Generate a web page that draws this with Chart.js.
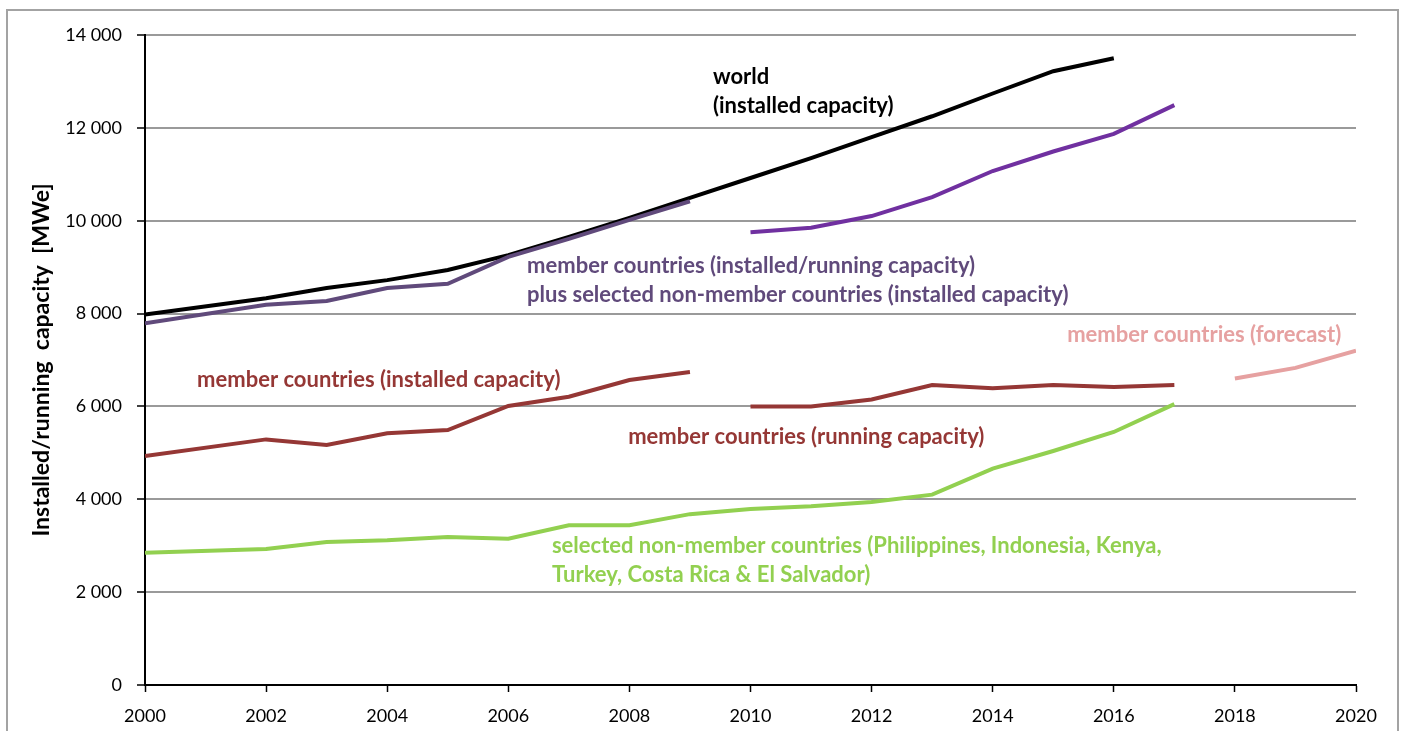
<!DOCTYPE html>
<html>
<head>
<meta charset="utf-8">
<script src="https://cdn.jsdelivr.net/npm/chart.js@4.4.1/dist/chart.umd.min.js"></script>
<style>
  html, body { margin: 0; padding: 0; background: #fff; }
  #wrap { position: relative; width: 1407px; height: 731px; }
  #frame { position: absolute; left: 6px; top: 9px; width: 1393px; height: 740px; border: 2px solid #a3a3a3; box-sizing: border-box; pointer-events: none; }
  canvas { position: absolute; left: 0; top: 0; }
</style>
</head>
<body>
<div id="wrap">
  <canvas id="geoChart" width="1407" height="731"></canvas>
  <div id="frame"></div>
</div>
<script>
// Installed / running geothermal capacity [MWe]
const worldYears = [2000, 2002, 2003, 2004, 2005, 2006, 2007, 2008, 2009, 2010, 2011, 2012, 2013, 2014, 2015, 2016];
const worldValues = [7980, 8330, 8550, 8720, 8940, 9260, 9650, 10060, 10490, 10920, 11350, 11800, 12250, 12740, 13220, 13500];

const memberPlusYearsA = [2000, 2002, 2003, 2004, 2005, 2006, 2007, 2008, 2009];
const memberPlusValuesA = [7790, 8190, 8270, 8550, 8640, 9220, 9610, 10020, 10420];
const memberPlusYearsB = [2010, 2011, 2012, 2013, 2014, 2015, 2016, 2017];
const memberPlusValuesB = [9750, 9850, 10100, 10510, 11070, 11490, 11870, 12490];

const memberInstYears = [2000, 2002, 2003, 2004, 2005, 2006, 2007, 2008, 2009];
const memberInstValues = [4930, 5290, 5170, 5420, 5490, 6010, 6210, 6570, 6740];

const memberRunYears = [2010, 2011, 2012, 2013, 2014, 2015, 2016, 2017];
const memberRunValues = [6000, 6000, 6150, 6460, 6390, 6460, 6420, 6460];

const forecastYears = [2018, 2019, 2020];
const forecastValues = [6600, 6830, 7200];

const nonMemberYears = [2000, 2002, 2003, 2004, 2005, 2006, 2007, 2008, 2009, 2010, 2011, 2012, 2013, 2014, 2015, 2016, 2017];
const nonMemberValues = [2850, 2930, 3080, 3120, 3190, 3150, 3440, 3440, 3680, 3790, 3850, 3940, 4100, 4660, 5040, 5450, 6050];

const yTicks = [0, 2000, 4000, 6000, 8000, 10000, 12000, 14000];
const xTicks = [2000, 2002, 2004, 2006, 2008, 2010, 2012, 2014, 2016, 2018, 2020];

// series labels placed on the chart (anchored in data coordinates)
const notes = [
  { x: 2009.38, y: 13095, text: 'world', color: '#000000' },
  { x: 2009.38, y: 12470, text: '(installed capacity)', color: '#000000' },
  { x: 2006.31, y: 9024, text: 'member countries (installed/running capacity)', color: '#604a7b' },
  { x: 2006.31, y: 8400, text: 'plus selected non-member countries (installed capacity)', color: '#604a7b' },
  { x: 2000.86, y: 6569, text: 'member countries (installed capacity)', color: '#953735' },
  { x: 2007.98, y: 5341, text: 'member countries (running capacity)', color: '#953735' },
  { x: 2015.23, y: 7538, text: 'member countries (forecast)', color: '#e6a1a1' },
  { x: 2006.72, y: 2994, text: 'selected non-member countries (Philippines, Indonesia, Kenya,', color: '#92d050' },
  { x: 2006.72, y: 2369, text: 'Turkey, Costa Rica & El Salvador)', color: '#92d050' }
];

const toPoints = (xs, ys) => xs.map((x, i) => ({ x: x, y: ys[i] }));

function series(xs, ys, color, width) {
  return {
    data: toPoints(xs, ys),
    borderColor: color,
    backgroundColor: color,
    borderWidth: width,
    pointRadius: 0,
    tension: 0,
    fill: false
  };
}

const noteFont = "bold 22px Lato, 'Open Sans', sans-serif";

const notesPlugin = {
  id: 'notes',
  afterDatasetsDraw(chart) {
    const { ctx, scales } = chart;
    ctx.save();
    ctx.font = noteFont;
    ctx.textAlign = 'left';
    ctx.textBaseline = 'middle';
    notes.forEach(n => {
      ctx.fillStyle = n.color;
      ctx.fillText(n.text, scales.x.getPixelForValue(n.x), scales.y.getPixelForValue(n.y));
    });
    ctx.restore();
  }
};

const ctx = document.getElementById('geoChart').getContext('2d');

new Chart(ctx, {
  type: 'line',
  data: {
    datasets: [
      series(nonMemberYears, nonMemberValues, '#92d050', 4),
      series(forecastYears, forecastValues, '#e6a1a1', 4),
      series(memberRunYears, memberRunValues, '#953735', 4),
      series(memberInstYears, memberInstValues, '#953735', 4),
      series(memberPlusYearsB, memberPlusValuesB, '#7030a0', 4),
      series(memberPlusYearsA, memberPlusValuesA, '#604a7b', 4),
      series(worldYears, worldValues, '#000000', 4)
    ]
  },
  options: {
    responsive: false,
    animation: false,
    layout: { padding: { top: 35, right: 51, left: 0, bottom: 0 } },
    plugins: {
      legend: { display: false },
      tooltip: { enabled: false }
    },
    scales: {
      x: {
        type: 'linear',
        min: 2000,
        max: 2020,
        afterFit: s => { s.height = 46; },
        afterBuildTicks: s => { s.ticks = xTicks.map(v => ({ value: v })); },
        grid: { drawOnChartArea: false, drawTicks: true, tickLength: 7, tickColor: '#000', tickWidth: 1.5 },
        border: { color: '#000', width: 2 },
        ticks: {
          color: '#000',
          padding: 13,
          maxRotation: 0,
          font: { family: "Lato, 'Open Sans', sans-serif", size: 18 },
          callback: v => String(v)
        }
      },
      y: {
        min: 0,
        max: 14000,
        afterFit: s => { s.width = 145; },
        afterBuildTicks: s => { s.ticks = yTicks.map(v => ({ value: v })); },
        grid: { color: '#9a9a9a', lineWidth: 2, drawTicks: true, tickLength: 8, tickColor: '#000', tickWidth: 1.5 },
        border: { color: '#000', width: 2 },
        ticks: {
          color: '#000',
          padding: 15,
          font: { family: "Lato, 'Open Sans', sans-serif", size: 18 },
          callback: v => v === 0 ? '0' : (v / 1000) + ' 000'
        },
        title: {
          display: true,
          text: 'Installed/running  capacity  [MWe]',
          color: '#000',
          padding: { top: 28, bottom: 0 },
          font: { family: "Lato, 'Open Sans', sans-serif", size: 23, weight: 'bold' }
        }
      }
    }
  },
  plugins: [notesPlugin]
});
</script>
</body>
</html>
